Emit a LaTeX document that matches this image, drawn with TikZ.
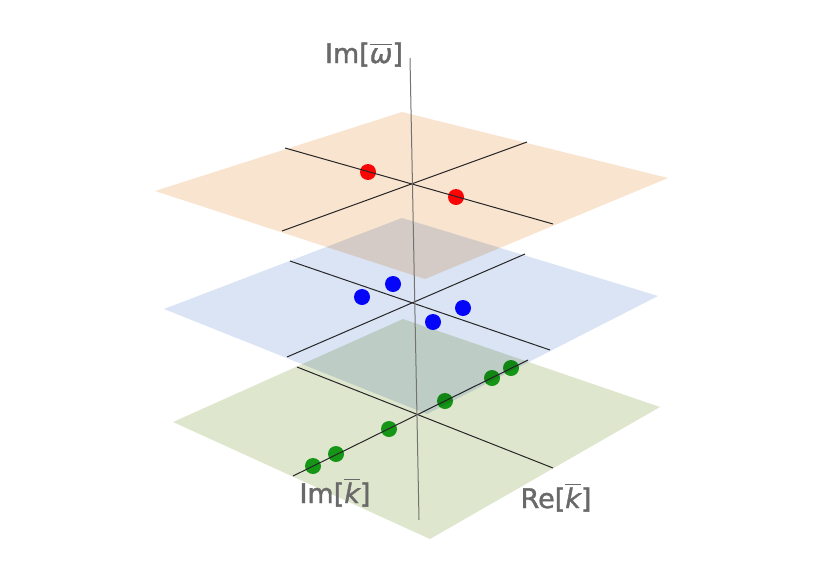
\documentclass[tikz,border=0pt]{standalone}
\usepackage{amsmath}
\usepackage{fontspec}
\setmainfont{DejaVu Sans}
\newfontfamily\axislabelfont{DejaVu Sans}[FakeBold=1.4]

\definecolor{orangeplane}{RGB}{249,228,207}
\definecolor{blueplane}{RGB}{218,228,245}
\definecolor{greenplane}{RGB}{222,230,206}
\definecolor{labelgrey}{RGB}{105,105,105}
\definecolor{poleblue}{RGB}{5,5,250}
\definecolor{polered}{RGB}{250,5,5}
\definecolor{polegreen}{RGB}{22,150,22}

\begin{document}
\begin{tikzpicture}[x=1pt, y=-1pt,
    plane/.style={fill=#1, blend mode=multiply},
    axisline/.style={draw=black!85, line width=1pt},
    pole/.style={circle, fill=#1, minimum size=16pt, inner sep=0pt},
    lbl/.style={text=labelgrey, font=\axislabelfont\fontsize{27}{32}\selectfont, anchor=base}
  ]
  \useasboundingbox (0,0) rectangle (830,587);

  % bottom plane
  \fill[plane=greenplane] (173,422) -- (403,319) -- (660,407) -- (430,539) -- cycle;
  \node[pole=polegreen] (g1) at (313,466) {};
  \node[pole=polegreen] (g2) at (336,454) {};
  \node[pole=polegreen] (g3) at (389,429) {};
  \node[pole=polegreen] (g4) at (445,401) {};
  \node[pole=polegreen] (g5) at (492,378) {};
  \node[pole=polegreen] (g6) at (511,368) {};
  \coordinate (gA1) at (297,367); \coordinate (gA2) at (553,468);
  \coordinate (gB1) at (293,476); \coordinate (gB2) at (528,360);
  \draw[axisline] (gA1) -- (gA2);
  \draw[axisline] (gB1) -- (gB2);

  % middle plane
  \fill[plane=blueplane] (164,309) -- (402,218) -- (658,296) -- (427,414) -- cycle;
  \node[pole=poleblue] (b1) at (393,284) {};
  \node[pole=poleblue] (b2) at (362,297) {};
  \node[pole=poleblue] (b3) at (463,308) {};
  \node[pole=poleblue] (b4) at (433,322) {};
  \coordinate (bA1) at (290,261); \coordinate (bA2) at (550,350);
  \coordinate (bB1) at (287,357); \coordinate (bB2) at (525,254);
  \draw[axisline] (bA1) -- (bA2);
  \draw[axisline] (bB1) -- (bB2);

  % top plane
  \fill[plane=orangeplane] (155,191) -- (402,112) -- (668,178) -- (425,279) -- cycle;
  \node[pole=polered] (r1) at (368,172) {};
  \node[pole=polered] (r2) at (456,197) {};
  \coordinate (rA1) at (285,148); \coordinate (rA2) at (553,224);
  \coordinate (rB1) at (282,231); \coordinate (rB2) at (527,142);
  \draw[axisline] (rA1) -- (rA2);
  \draw[axisline] (rB1) -- (rB2);

  % vertical axis and labels
  \coordinate (ztop) at (410,58);
  \coordinate (zbot) at (419,520);
  \draw[draw=black!55, line width=1pt] (ztop) -- (zbot);
  \node[lbl] (imw) at (364,63) {Im[$\overline{\mbox{\itshape ω}}$]};
  \node[lbl] (imk) at (335,503) {Im[$\overline{\mbox{\itshape k}}$]};
  \node[lbl] (rek) at (556,508) {Re[$\overline{\mbox{\itshape k}}$]};
\end{tikzpicture}
\end{document}
